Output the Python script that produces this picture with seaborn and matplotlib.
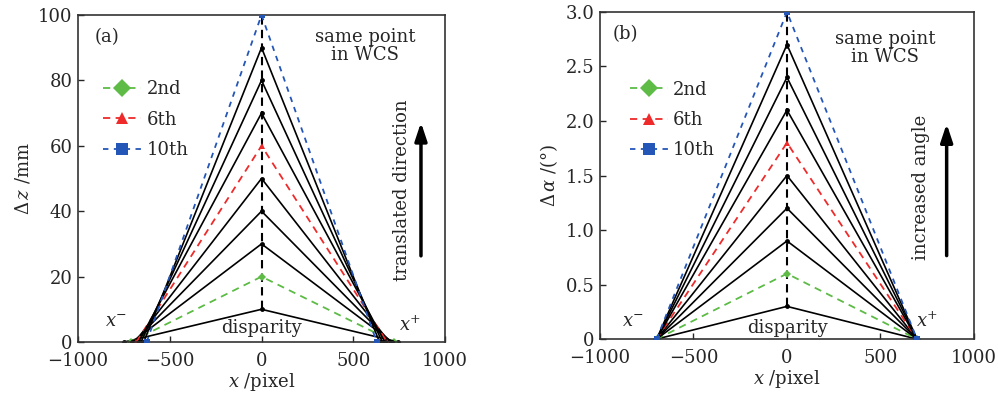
import numpy as np
import pandas as pd
import matplotlib
matplotlib.use("Agg")
import matplotlib.pyplot as plt
import seaborn as sns

# ---------------- data ----------------
orders = [1, 2, 3, 4, 5, 6, 7, 8, 9, 10]
peak_z = [10, 20, 30, 40, 50, 60, 70, 80, 90, 100]
left_z = [-748, -714, -705, -697, -690, -682, -670, -657, -642, -626]
right_z = [745, 722, 712, 704, 696, 684, 672, 658, 643, 628]

peak_a = [0.3, 0.6, 0.9, 1.2, 1.5, 1.8, 2.1, 2.4, 2.7, 3.0]
left_a = [-697, -697, -697, -697, -697, -697, -697, -697, -697, -697]
right_a = [695, 695, 695, 695, 695, 695, 695, 695, 695, 695]

xticks = [-1000, -500, 0, 500, 1000]
yticks_a = [0, 20, 40, 60, 80, 100]
yticks_b = [0, 0.5, 1.0, 1.5, 2.0, 2.5, 3.0]
yticklabels_b = ["0", "0.5", "1.0", "1.5", "2.0", "2.5", "3.0"]

legend_labels = {2: "2nd", 6: "6th", 10: "10th"}

# ---------------- style ----------------
sns.set_theme(style="white")
plt.rcParams["font.family"] = ["DejaVu Serif"]
plt.rcParams["mathtext.fontset"] = "dejavuserif"
plt.rcParams["xtick.direction"] = "in"
plt.rcParams["ytick.direction"] = "in"

GREEN = "#5dbb46"
RED = "#ee2a2a"
BLUE = "#2456b8"
styles = {
    2: dict(color=GREEN, marker="D", ls=(0, (4, 3)), ms=4),
    6: dict(color=RED, marker="^", ls=(0, (4, 3)), ms=5),
    10: dict(color=BLUE, marker="s", ls=(0, (3, 3)), ms=5),
}

fig = plt.figure(figsize=(9.98, 3.98), dpi=100)
ax1 = fig.add_axes([0.0782, 0.1407, 0.3677, 0.8216])
ax2 = fig.add_axes([0.6012, 0.148, 0.3747, 0.822])


def draw(ax, peaks, lefts, rights):
    rows = []
    for o, p, l, r in zip(orders, peaks, lefts, rights):
        for k, (xx, yy) in enumerate([(l, 0), (0, p), (r, 0)]):
            rows.append(dict(order=o, idx=k, x=xx, y=yy))
    df = pd.DataFrame(rows)
    # central dashed line
    sns.lineplot(x=[0, 0], y=[peaks[0], peaks[-1]], ax=ax, color="black",
                 lw=1.5, linestyle=(0, (4, 2.5)), zorder=1,
                 estimator=None, sort=False)
    for o in orders:
        sub = df[df.order == o]
        if o in styles:
            st = styles[o]
            sns.lineplot(data=sub, x="x", y="y", sort=False, ax=ax,
                         estimator=None,
                         color=st["color"], lw=1.3, linestyle=st["ls"],
                         marker=st["marker"], markersize=st["ms"],
                         markeredgewidth=0, zorder=3 if o == 10 else 2)
        else:
            sns.lineplot(data=sub, x="x", y="y", sort=False, ax=ax,
                         estimator=None,
                         color="black", lw=1.2, marker="o", markersize=3.5,
                         markeredgewidth=0, zorder=2)
    ax.set_xlim(-1000, 1000)
    ax.set_xticks(xticks)
    ax.set_xticklabels(["\u22121000", "\u2212500", "0", "500", "1000"])
    for s in ax.spines.values():
        s.set_color("#333333")
        s.set_linewidth(1.2)
    ax.tick_params(axis="both", labelsize=13, length=4, width=1,
                   bottom=True, left=True)
    ax.tick_params(axis="x", pad=7)
    ax.tick_params(axis="y", pad=4)
    ax.set_xlabel(r"$x$ /pixel", fontsize=13, labelpad=1)
    handles = []
    for o in [2, 6, 10]:
        st = styles[o]
        h, = ax.plot([], [], color=st["color"], ls=st["ls"], lw=1.3,
                     marker=st["marker"], markersize=9 if o != 10 else 8,
                     markeredgewidth=0)
        handles.append(h)
    return handles


h1 = draw(ax1, peak_z, left_z, right_z)
ax1.set_ylim(0, 100)
ax1.set_yticks(yticks_a)
ax1.set_ylabel(r"$\Delta\,z$ /mm", fontsize=13, labelpad=4)
ax1.legend(h1, [legend_labels[o] for o in [2, 6, 10]], loc="upper left",
           bbox_to_anchor=(0.068, 0.80), frameon=False, fontsize=13,
           borderaxespad=0, borderpad=0,
           handlelength=2.1, labelspacing=0.68, handletextpad=0.3)
ax1.text(-842, 93.3, "(a)", fontsize=13, ha="center", va="center")
ax1.text(565, 90.5, "same point\nin WCS", fontsize=13, ha="center",
         va="center", linespacing=1.0)
ax1.text(766, 46.5, "translated direction", fontsize=13, rotation=90,
         ha="center", va="center")
ax1.annotate("", xy=(869, 68), xytext=(869, 25.5),
             arrowprops=dict(arrowstyle="-|>,head_width=0.3,head_length=0.9",
                             lw=2.5, color="black"))
ax1.text(0, 4.3, "disparity", fontsize=13, ha="center", va="center")
ax1.text(-793, 6, r"$x^{-}$", fontsize=13, ha="center", va="center")
ax1.text(809, 5.2, r"$x^{+}$", fontsize=13, ha="center", va="center")

h2 = draw(ax2, peak_a, left_a, right_a)
ax2.set_ylim(0, 3.0)
ax2.set_yticks(yticks_b)
ax2.set_yticklabels(yticklabels_b)
ax2.set_ylabel(r"$\Delta\,\alpha$ /(°)", fontsize=13, labelpad=4)
ax2.legend(h2, [legend_labels[o] for o in [2, 6, 10]], loc="upper left",
           bbox_to_anchor=(0.08, 0.79), frameon=False, fontsize=13,
           borderaxespad=0, borderpad=0,
           handlelength=2.1, labelspacing=0.68, handletextpad=0.3)
ax2.text(-866, 2.80, "(b)", fontsize=13, ha="center", va="center")
ax2.text(524, 2.665, "same point\nin WCS", fontsize=13, ha="center",
         va="center", linespacing=1.0)
ax2.text(715, 1.39, "increased angle", fontsize=13, rotation=90,
         ha="center", va="center")
ax2.annotate("", xy=(854, 2.0), xytext=(854, 0.74),
             arrowprops=dict(arrowstyle="-|>,head_width=0.3,head_length=0.9",
                             lw=2.5, color="black"))
ax2.text(0, 0.10, "disparity", fontsize=13, ha="center", va="center")
ax2.text(-823, 0.16, r"$x^{-}$", fontsize=13, ha="center", va="center")
ax2.text(752, 0.16, r"$x^{+}$", fontsize=13, ha="center", va="center")

fig.savefig("out.png", dpi=100)
